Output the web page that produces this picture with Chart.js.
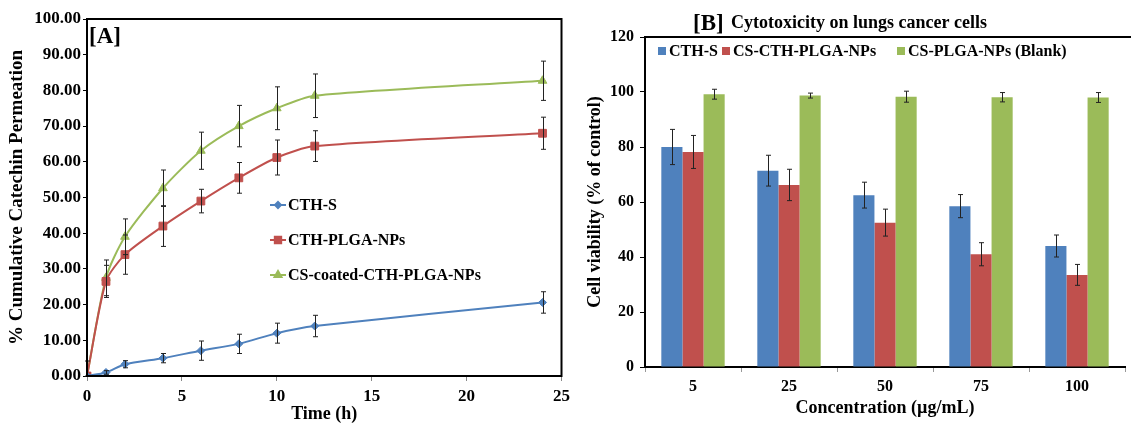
<!DOCTYPE html>
<html>
<head>
<meta charset="utf-8">
<script src="https://cdn.jsdelivr.net/npm/chart.js@4.4.1/dist/chart.umd.min.js"></script>
<style>
  html, body { margin: 0; padding: 0; background: #fff; }
  #wrapA { position: absolute; left: 0; top: 0; width: 575px; height: 425px; }
  #wrapB { position: absolute; left: 580px; top: 0; width: 551px; height: 425px; }
</style>
</head>
<body>
<div id="wrapA"><canvas id="chartA"></canvas></div>
<div id="wrapB"><canvas id="chartB"></canvas></div>
<script>
// Panel A: permeation over time
const timeH = [0, 1, 2, 4, 6, 8, 10, 12, 24];
const cthS = [0, 1.0, 3.3, 5.0, 7.1, 9.0, 12.0, 14.0, 20.6];
const cthSErr = [0, 0.5, 1.0, 1.3, 2.7, 2.7, 2.8, 3.0, 3.0];
const cthPlga = [0, 26.5, 34.0, 42.0, 49.0, 55.5, 61.2, 64.4, 68.0];
const cthPlgaErr = [0, 4.5, 5.5, 5.7, 3.3, 4.3, 4.9, 4.3, 4.5];
const csCoated = [0, 27.5, 39.0, 52.6, 63.1, 70.0, 75.0, 78.5, 82.7];
const csCoatedErr = [4.2, 5.0, 5.0, 5.1, 5.2, 5.8, 6.0, 6.1, 5.5];

// Panel B: cytotoxicity
const concLabels = ['5', '25', '50', '75', '100'];
const viabCTHS = [80.0, 71.4, 62.5, 58.5, 44.0];
const viabCTHSErr = [6.4, 5.6, 4.7, 4.2, 4.0];
const viabCSCTH = [78.2, 66.2, 52.5, 41.0, 33.5];
const viabCSCTHErr = [6.0, 5.7, 4.9, 4.2, 3.8];
const viabBlank = [99.2, 98.7, 98.3, 98.1, 98.0];
const viabBlankErr = [1.8, 0.9, 2.0, 1.7, 1.8];

const BLUE = '#4F81BD', RED = '#C0504D', GREEN = '#9BBB59';
const SERIF = "'Liberation Serif', 'Times New Roman', serif";

Chart.defaults.font.family = SERIF;
Chart.defaults.color = '#000';

const pts = (ys) => ys.map((y, i) => ({ x: timeH[i], y }));

// vertical error bars with caps, from dataset.errors
const errorBars = {
  id: 'errorBars',
  afterDatasetsDraw(chart) {
    const { ctx } = chart;
    const yScale = chart.scales.y;
    chart.data.datasets.forEach((ds, i) => {
      if (!ds.errors) return;
      const meta = chart.getDatasetMeta(i);
      ctx.save();
      ctx.strokeStyle = '#222';
      ctx.lineWidth = 1;
      meta.data.forEach((el, j) => {
        const e = ds.errors[j];
        if (!e) return;
        const raw = ds.data[j];
        const v = typeof raw === 'object' ? raw.y : raw;
        const top = yScale.getPixelForValue(v + e);
        const bot = yScale.getPixelForValue(Math.max(0, v - e));
        const x = Math.round(el.x) + 0.5;
        ctx.beginPath();
        ctx.moveTo(x, top); ctx.lineTo(x, bot);
        ctx.moveTo(x - 2.5, top); ctx.lineTo(x + 2.5, top);
        ctx.moveTo(x - 2.5, bot); ctx.lineTo(x + 2.5, bot);
        ctx.stroke();
      });
      ctx.restore();
    });
  }
};

const frameA = {
  id: 'frameA',
  afterDraw(chart) {
    const { ctx, chartArea: a } = chart;
    ctx.save();
    ctx.strokeStyle = '#000';
    ctx.lineWidth = 2;
    ctx.strokeRect(a.left, a.top, a.right - a.left, a.bottom - a.top);
    // panel tag
    ctx.fillStyle = '#000';
    ctx.font = 'bold 23px ' + SERIF;
    ctx.textBaseline = 'middle';
    ctx.fillText('[A]', a.left + 2, 37);
    // legend inside plot
    ctx.font = 'bold 16px ' + SERIF;
    chart.data.datasets.forEach((ds, i) => {
      const y = 205 + i * 35;
      ctx.strokeStyle = ds.borderColor;
      ctx.lineWidth = 2;
      ctx.beginPath(); ctx.moveTo(270, y); ctx.lineTo(286, y); ctx.stroke();
      ctx.fillStyle = ds.backgroundColor;
      Chart.helpers.drawPoint(ctx, { pointStyle: ds.pointStyle, radius: ds.pointRadius - 1, borderWidth: 1, rotation: 0 }, 278, y);
      ctx.fillStyle = '#000';
      ctx.fillText(ds.label, 288, y + 1);
    });
    ctx.restore();
  }
};

new Chart(document.getElementById('chartA'), {
  type: 'line',
  data: {
    datasets: [
      { label: 'CTH-S', data: pts(cthS), errors: cthSErr, borderColor: BLUE, backgroundColor: BLUE,
        pointStyle: 'rectRot', pointRadius: 4 },
      { label: 'CTH-PLGA-NPs', data: pts(cthPlga), errors: cthPlgaErr, borderColor: RED, backgroundColor: RED,
        pointStyle: 'rect', pointRadius: 5.5 },
      { label: 'CS-coated-CTH-PLGA-NPs', data: pts(csCoated), errors: csCoatedErr, borderColor: GREEN, backgroundColor: GREEN,
        pointStyle: 'triangle', pointRadius: 5 },
    ],
  },
  options: {
    responsive: true, maintainAspectRatio: false, animation: false,
    layout: { padding: { top: 19, right: 12, left: 0, bottom: 0 } },
    elements: { line: { borderWidth: 2, tension: 0.25 }, point: { borderWidth: 1 } },
    plugins: { legend: { display: false }, tooltip: { enabled: false } },
    scales: {
      x: {
        type: 'linear', min: 0, max: 25,
        ticks: { stepSize: 5, padding: 5, font: { size: 17, weight: 'bold' } },
        grid: { drawOnChartArea: false, tickLength: 5, color: '#888' },
        border: { color: '#000', width: 2 },
        title: { display: true, text: 'Time (h)', font: { size: 18, weight: 'bold' }, padding: { top: 0, bottom: 0 } },
        afterFit: (s) => { s.height = 49; },
      },
      y: {
        min: 0, max: 100,
        ticks: { stepSize: 10, padding: 2, font: { size: 17, weight: 'bold' }, callback: (v) => v.toFixed(2) },
        grid: { drawOnChartArea: false, tickLength: 4, color: '#000' },
        border: { color: '#000', width: 2 },
        title: { display: true, text: '% Cumulative Catechin Permeation', font: { size: 19, weight: 'bold' }, padding: { top: 6, bottom: 0 } },
        afterFit: (s) => { s.width = 87; },
      },
    },
  },
  plugins: [errorBars, frameA],
});

const frameB = {
  id: 'frameB',
  afterDraw(chart) {
    const { ctx, chartArea: a } = chart;
    ctx.save();
    ctx.strokeStyle = '#000';
    ctx.lineWidth = 2;
    ctx.beginPath(); ctx.moveTo(a.left, a.top); ctx.lineTo(a.right + 6, a.top); ctx.stroke();
    // title
    ctx.fillStyle = '#000';
    ctx.textBaseline = 'alphabetic';
    ctx.font = 'bold 23px ' + SERIF;
    ctx.fillText('[B]', 113, 30);
    ctx.font = 'bold 18px ' + SERIF;
    ctx.fillText('Cytotoxicity on lungs cancer cells', 151, 28);
    // legend
    ctx.font = 'bold 16px ' + SERIF;
    ctx.textBaseline = 'middle';
    const xs = [78, 142, 317];
    chart.data.datasets.forEach((ds, i) => {
      ctx.fillStyle = ds.backgroundColor;
      ctx.fillRect(xs[i], 47, 8, 8);
      ctx.fillStyle = '#000';
      ctx.fillText(ds.label, xs[i] + 11, 52);
    });
    ctx.restore();
  }
};

new Chart(document.getElementById('chartB'), {
  type: 'bar',
  data: {
    labels: concLabels,
    datasets: [
      { label: 'CTH-S', data: viabCTHS, errors: viabCTHSErr, backgroundColor: BLUE },
      { label: 'CS-CTH-PLGA-NPs', data: viabCSCTH, errors: viabCSCTHErr, backgroundColor: RED },
      { label: 'CS-PLGA-NPs (Blank)', data: viabBlank, errors: viabBlankErr, backgroundColor: GREEN },
    ],
  },
  options: {
    responsive: true, maintainAspectRatio: false, animation: false,
    layout: { padding: { top: 37, right: 6, left: 0, bottom: 0 } },
    datasets: { bar: { categoryPercentage: 0.66, barPercentage: 1.0 } },
    plugins: { legend: { display: false }, tooltip: { enabled: false } },
    scales: {
      x: {
        ticks: { padding: 5, font: { size: 16, weight: 'bold' } },
        grid: { drawOnChartArea: false, tickLength: 5, color: '#999' },
        border: { color: '#000', width: 2 },
        title: { display: true, text: 'Concentration (µg/mL)', font: { size: 18, weight: 'bold' }, padding: { top: 0, bottom: 6 } },
        afterFit: (s) => { s.height = 58; },
      },
      y: {
        min: 0, max: 120,
        ticks: { stepSize: 20, padding: 6, font: { size: 16, weight: 'bold' } },
        grid: { drawOnChartArea: false, tickLength: 5, color: '#000' },
        border: { color: '#000', width: 2 },
        title: { display: true, text: 'Cell viability (% of control)', font: { size: 18, weight: 'bold' }, padding: { top: 5, bottom: 0 } },
        afterFit: (s) => { s.width = 65; },
      },
    },
  },
  plugins: [errorBars, frameB],
});
</script>
</body>
</html>
